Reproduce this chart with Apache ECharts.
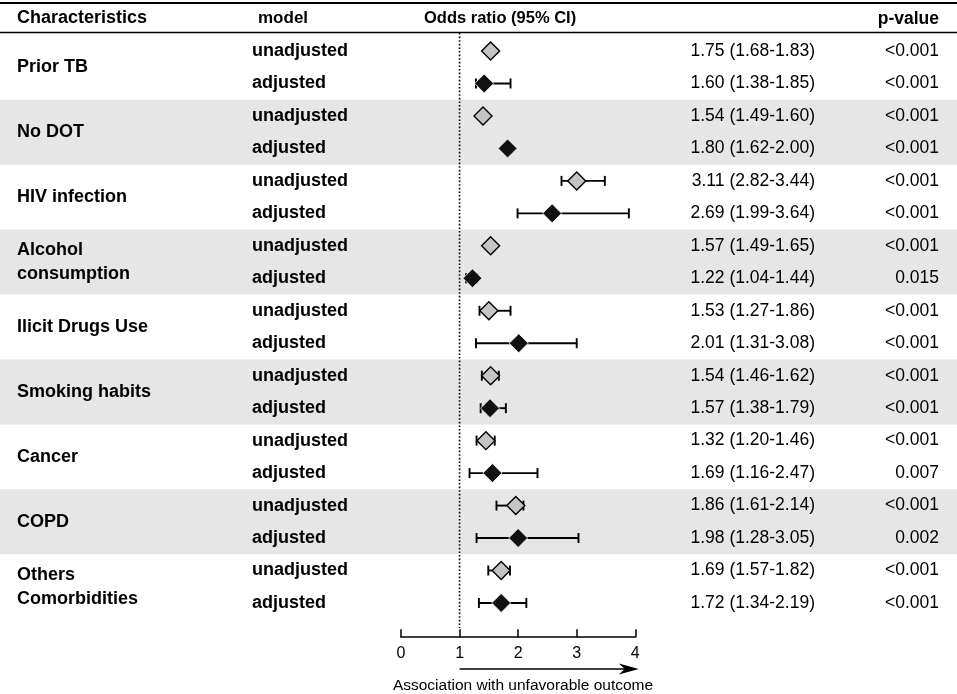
<!DOCTYPE html>
<html>
<head>
<meta charset="utf-8">
<script src="https://cdn.jsdelivr.net/npm/echarts@6/dist/echarts.min.js"></script>
<style>
  html, body { margin: 0; padding: 0; background: #fff; }
  #main { width: 957px; height: 694px; }
</style>
</head>
<body>
<div id="main"></div>
<script>
// characteristics (two rows each: unadjusted / adjusted)
var characteristics = ['Prior TB', 'No DOT', 'HIV infection', 'Alcohol\nconsumption', 'Ilicit Drugs Use',
    'Smoking habits', 'Cancer', 'COPD', 'Others\nComorbidities'];
var models = ['unadjusted', 'adjusted'];

// printed columns
var orText = ['1.75 (1.68-1.83)', '1.60 (1.38-1.85)', '1.54 (1.49-1.60)', '1.80 (1.62-2.00)',
    '3.11 (2.82-3.44)', '2.69 (1.99-3.64)', '1.57 (1.49-1.65)', '1.22 (1.04-1.44)',
    '1.53 (1.27-1.86)', '2.01 (1.31-3.08)', '1.54 (1.46-1.62)', '1.57 (1.38-1.79)',
    '1.32 (1.20-1.46)', '1.69 (1.16-2.47)', '1.86 (1.61-2.14)', '1.98 (1.28-3.05)',
    '1.69 (1.57-1.82)', '1.72 (1.34-2.19)'];
var pText = ['<0.001', '<0.001', '<0.001', '<0.001', '<0.001', '<0.001', '<0.001', '0.015',
    '<0.001', '<0.001', '<0.001', '<0.001', '<0.001', '0.007', '<0.001', '0.002', '<0.001', '<0.001'];

// plotted marks
var orPoint = [1.53, 1.42, 1.40, 1.82, 3.00, 2.58, 1.53, 1.22, 1.50, 2.01, 1.53, 1.52, 1.45, 1.56, 1.96, 2.00, 1.71, 1.71];
var ciLow   = [1.50, 1.28, 1.37, 1.78, 2.74, 1.99, 1.50, 1.11, 1.34, 1.28, 1.38, 1.36, 1.29, 1.17, 1.63, 1.29, 1.49, 1.33];
var ciHigh  = [1.56, 1.87, 1.43, 1.86, 3.48, 3.89, 1.56, 1.30, 1.87, 3.00, 1.67, 1.79, 1.60, 2.33, 2.09, 3.03, 1.86, 2.14];

var xTicks = [0, 1, 2, 3, 4];

var FONT = "'Liberation Sans', Arial, sans-serif";

var rows = [];
for (var i = 0; i < characteristics.length; i++) {
    for (var j = 0; j < models.length; j++) rows.push(characteristics[i] + '|' + models[j]);
}

var unadjData = [], adjData = [], ciData = [];
for (var k = 0; k < rows.length; k++) {
    if (k % 2 === 0) unadjData.push([orPoint[k], k]);
    else adjData.push([orPoint[k], k]);
    ciData.push([ciLow[k], ciHigh[k], k]);
}

var groupIdx = characteristics.map(function (c, i) { return [i]; });

var myChart = echarts.init(document.getElementById('main'));

var option = {
    animation: false,
    grid: { left: 401, right: 321.7, top: 34.8, bottom: 74.8 },
    xAxis: {
        type: 'value', min: 0, max: 4, interval: 1,
        offset: 18,
        axisLine: { show: true, lineStyle: { color: '#000', width: 1.5 } },
        axisTick: { show: true, inside: true, length: 8, lineStyle: { color: '#000', width: 1.5 } },
        axisLabel: { color: '#000', fontSize: 16, fontFamily: FONT, margin: 8,
            formatter: function (v) { return xTicks.indexOf(v) >= 0 ? String(v) : ''; } },
        splitLine: { show: false }
    },
    yAxis: {
        type: 'category', data: rows, inverse: true, show: false
    },
    graphic: [
        { type: 'line', shape: { x1: 0, y1: 3, x2: 957, y2: 3 }, style: { stroke: '#000', lineWidth: 2 } },
        { type: 'line', shape: { x1: 0, y1: 32.5, x2: 957, y2: 32.5 }, style: { stroke: '#000', lineWidth: 1.5 } },
        { type: 'text', left: 17, top: 9, style: { text: 'Characteristics', font: 'bold 18px ' + FONT, fill: '#000' } },
        { type: 'text', left: 258, top: 10, style: { text: 'model', font: 'bold 17px ' + FONT, fill: '#000' } },
        { type: 'text', left: 424, top: 10, style: { text: 'Odds ratio (95% CI)', font: 'bold 16.5px ' + FONT, fill: '#000' } },
        { type: 'text', right: 18, top: 10, style: { text: 'p-value', font: 'bold 17.5px ' + FONT, fill: '#000' } }
    ],
    series: [
        {
            // shaded bands for alternate characteristics
            type: 'custom', z: 0, silent: true,
            data: groupIdx,
            renderItem: function (params, api) {
                var g = api.value(0);
                if (g % 2 === 0) return null;
                var h = api.size([0, 1])[1];
                var y0 = api.coord([0, 2 * g])[1] - h / 2;
                return { type: 'rect', shape: { x: 0, y: y0, width: api.getWidth(), height: 2 * h },
                    style: { fill: '#e6e6e6' } };
            }
        },
        {
            // characteristic names
            type: 'custom', z: 3, silent: true,
            data: groupIdx,
            renderItem: function (params, api) {
                var g = api.value(0);
                var y = (api.coord([0, 2 * g])[1] + api.coord([0, 2 * g + 1])[1]) / 2;
                return { type: 'text', style: { x: 17, y: y, text: characteristics[g], font: 'bold 18px ' + FONT,
                    fill: '#000', align: 'left', verticalAlign: 'middle', lineHeight: 24 } };
            }
        },
        {
            // model, OR text and p-value columns
            type: 'custom', z: 3, silent: true,
            data: rows.map(function (r, i) { return [i]; }),
            renderItem: function (params, api) {
                var k = api.value(0);
                var y = api.coord([0, k])[1];
                return { type: 'group', children: [
                    { type: 'text', style: { x: 252, y: y, text: models[k % 2], font: 'bold 18px ' + FONT,
                        fill: '#000', align: 'left', verticalAlign: 'middle' } },
                    { type: 'text', style: { x: 815, y: y, text: orText[k], font: '17.5px ' + FONT,
                        fill: '#000', align: 'right', verticalAlign: 'middle' } },
                    { type: 'text', style: { x: 939, y: y, text: pText[k], font: '17.5px ' + FONT,
                        fill: '#000', align: 'right', verticalAlign: 'middle' } }
                ] };
            }
        },
        {
            // reference line at OR = 1 and the arrow under the axis
            type: 'custom', z: 2, silent: true,
            data: [[1]],
            renderItem: function (params, api) {
                var x1 = api.coord([1, 0])[0];
                var x4 = api.coord([4.06, 0])[0];
                var ya = 669;
                return { type: 'group', children: [
                    { type: 'line', shape: { x1: x1, y1: 33, x2: x1, y2: 628 },
                        style: { stroke: '#000', lineWidth: 1.6, lineDash: [1.6, 2] } },
                    { type: 'line', shape: { x1: x1, y1: ya, x2: x4 - 12, y2: ya },
                        style: { stroke: '#000', lineWidth: 1.5 } },
                    { type: 'polygon', shape: { points: [[x4, ya], [x4 - 20, ya - 5.5], [x4 - 14, ya], [x4 - 20, ya + 5.5]] },
                        style: { fill: '#000' } },
                    { type: 'text', style: { x: 523, y: 686, text: 'Association with unfavorable outcome',
                        font: '15.5px ' + FONT, fill: '#000', align: 'center', verticalAlign: 'middle' } }
                ] };
            }
        },
        {
            // confidence interval whiskers
            type: 'custom', z: 4,
            data: ciData,
            encode: { x: [0, 1], y: 2 },
            renderItem: function (params, api) {
                var lo = api.coord([api.value(0), api.value(2)]);
                var hi = api.coord([api.value(1), api.value(2)]);
                var c = 5;
                var st = { stroke: '#000', lineWidth: 1.9 };
                return { type: 'group', children: [
                    { type: 'line', shape: { x1: lo[0], y1: lo[1], x2: hi[0], y2: hi[1] }, style: st },
                    { type: 'line', shape: { x1: lo[0], y1: lo[1] - c, x2: lo[0], y2: lo[1] + c }, style: st },
                    { type: 'line', shape: { x1: hi[0], y1: hi[1] - c, x2: hi[0], y2: hi[1] + c }, style: st }
                ] };
            }
        },
        {
            name: 'unadjusted', type: 'scatter', z: 5,
            symbol: 'diamond', symbolSize: 18,
            itemStyle: { color: '#c4c4c4', borderColor: '#000', borderWidth: 1.4, opacity: 1 },
            data: unadjData
        },
        {
            name: 'adjusted', type: 'scatter', z: 5,
            symbol: 'diamond', symbolSize: 19,
            itemStyle: { color: '#111', borderColor: '#fff', borderWidth: 0.8, opacity: 1 },
            data: adjData
        }
    ]
};

myChart.setOption(option);
</script>
</body>
</html>
